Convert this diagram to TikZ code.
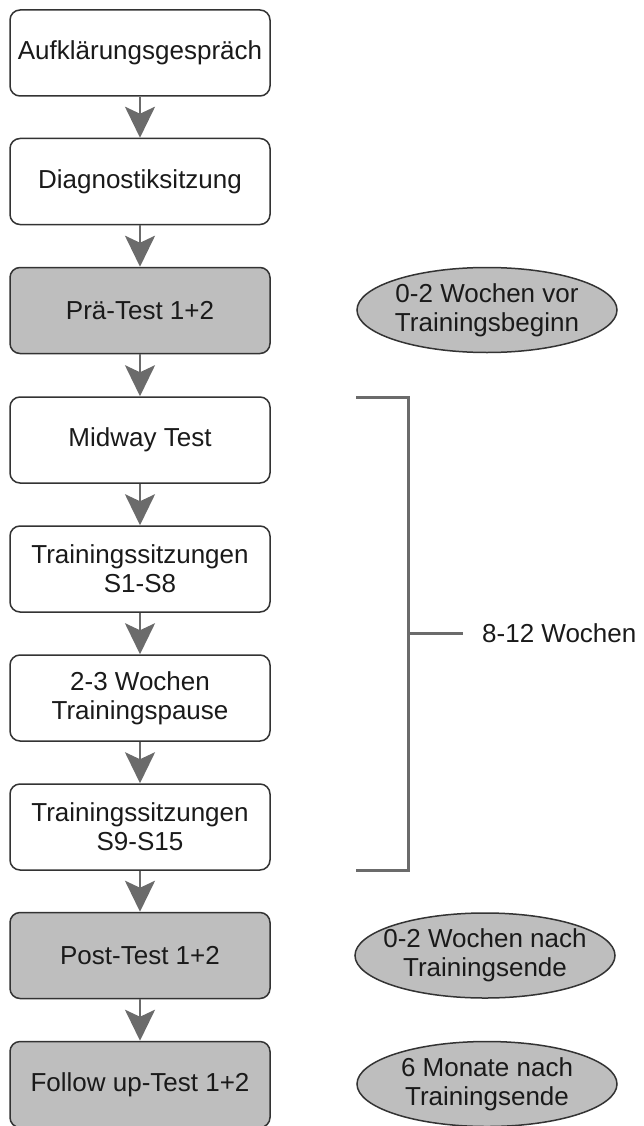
\documentclass[tikz,border=0pt]{standalone}
\usepackage{fontspec}
\setmainfont{Liberation Sans}
\usepackage{tikz}
\usetikzlibrary{arrows.meta}
\usetikzlibrary{shapes.geometric}

\definecolor{boxgrey}{HTML}{BEBEBE}
\definecolor{linegrey}{HTML}{6B6B6B}
\definecolor{rimgrey}{HTML}{333333}
\definecolor{textgrey}{HTML}{1A1A1A}

% Zeile, die ueber den Rand der Ellipse hinausragen darf
\newcommand{\zeile}[1]{\makebox[0pt]{#1}}

\begin{document}
\begin{tikzpicture}[
            x=1pt, y=-1pt,
            font=\fontsize{26}{29}\selectfont,
            phase node/.style={rectangle,rounded corners=10pt,draw=rimgrey,line width=1.5pt,fill=white,text=textgrey,
                minimum width=260pt,minimum height=86pt,inner sep=0pt,align=center},
            test node/.style={phase node,fill=boxgrey},
            time node/.style={ellipse,draw=rimgrey,line width=1.5pt,fill=boxgrey,text=textgrey,
                minimum width=260pt,minimum height=85pt,inner sep=0pt,align=center},
            flow/.style={draw=linegrey,line width=2.5pt,-{Stealth[length=31pt,width=30pt,inset=7pt]}},
            ]
            \useasboundingbox (0,0) rectangle (643,1126);
            
            \node[phase node] (1) at (140,53) {Aufklärungsgespräch};
            \node[phase node] (2) at (140,181.5) {Diagnostiksitzung};
            \node[test node] (3) at (140,310.5) {Prä-Test 1+2};
            \node[phase node] (4) at (140,440) {Midway Test};
            \node[phase node] (5) at (140,569) {Trainingssitzungen\\S1-S8};
            \node[phase node] (6) at (140,698) {2-3 Wochen\\Trainingspause};
            \node[phase node] (7) at (140,827) {Trainingssitzungen\\S9-S15};
            \node[test node] (8) at (140,955.5) {Post-Test 1+2};
            \node[test node] (9) at (140,1084.5) {Follow up-Test 1+2};
            
            \node[time node] (vor) at (487,310) {\zeile{0-2 Wochen vor}\\\zeile{Trainingsbeginn}};
            \node[time node] (nach) at (485,955.5) {\zeile{0-2 Wochen nach}\\\zeile{Trainingsende}};
            \node[time node] (spaeter) at (487,1084) {\zeile{6 Monate nach}\\\zeile{Trainingsende}};
            
            \path[flow] (1) -- (2);
            \path[flow] (2) -- (3);
            \path[flow] (3) -- (4);
            \path[flow] (4) -- (5);
            \path[flow] (5) -- (6);
            \path[flow] (6) -- (7);
            \path[flow] (7) -- (8);
            \path[flow] (8) -- (9);
            
            % Klammer ueber die Trainingsphase
            \coordinate (oben) at (356,397);
            \coordinate (unten) at (356,870);
            \coordinate (mitte) at (408,633);
            \node[anchor=west,text=textgrey,inner sep=0pt] (dauer) at (482,633) {8-12 Wochen};
            \draw[linegrey,line width=3pt] (oben) -| (mitte) |- (unten);
            \draw[linegrey,line width=3pt] (mitte) -- ++(55,0);
        \end{tikzpicture}
\end{document}
